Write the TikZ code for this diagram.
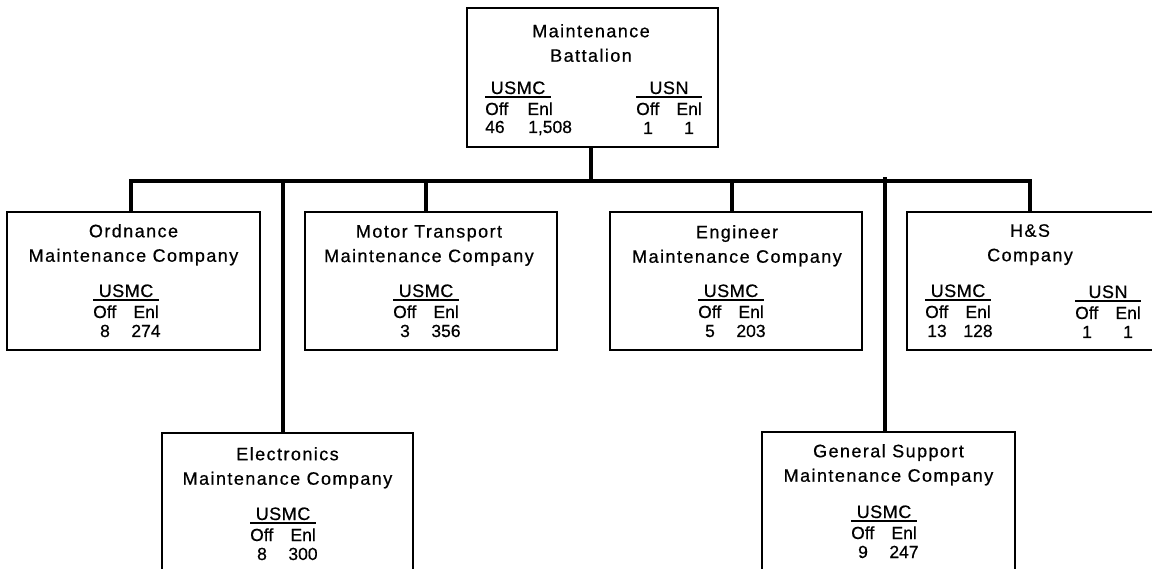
\documentclass[tikz,border=0pt]{standalone}
\usepackage{fontspec}
\setmainfont[FakeBold=0.6]{Liberation Sans}
\newfontfamily\ttlfont[LetterSpace=8,FakeBold=0.6]{Liberation Sans}
\newfontfamily\stfont[LetterSpace=3,FakeBold=0.6]{Liberation Sans}
\newcommand\mystats[6]{%
  \node[stlbl] (#1-l) at (#2,#3-3) {#4};
  \draw[strule] (#2-33,#3) -- (#2+33,#3);
  \node[sthead, anchor=base west] (#1-oh) at (#2-33,#3+18) {Off};
  \node[sthead, anchor=base east] (#1-eh) at (#2+33,#3+18) {Enl};
  \node[stval] (#1-ov) at (#2-21,#3+37) {#5};
  \node[stval] (#1-ev) at (#2+20,#3+37) {#6};
}
\begin{document}
\begin{tikzpicture}[x=1pt,y=-1pt,
  box/.style={draw, line width=2.2pt, inner sep=0pt, minimum width=253pt, minimum height=138pt},
  ttl/.style={font=\ttlfont\fontsize{18}{24.5}\selectfont, align=center, anchor=north, inner sep=0pt},
  stlbl/.style={font=\stfont\fontsize{18}{20}\selectfont, anchor=base, inner sep=0pt},
  sthead/.style={font=\fontsize{17.5}{20}\selectfont, inner sep=0pt},
  stval/.style={font=\fontsize{17.5}{20}\selectfont, anchor=base, inner sep=0pt},
  strule/.style={line width=1.2pt},
  conn/.style={line width=4pt, line join=miter}]
\path[use as bounding box, clip] (0,0) rectangle (1152,569);
% boxes
\node[box, minimum width=251pt, minimum height=139pt] (top) at (592.5,77.5) {};
\node[box] (ord) at (133.5,281) {};
\node[box, minimum width=252pt] (mt) at (431,281) {};
\node[box, minimum width=252pt] (eng) at (736,281) {};
\node[box, minimum width=246pt] (hs) at (1030,281) {};
\node[box, minimum width=251pt, minimum height=200pt] (elec) at (287.5,533) {};
\node[box, minimum width=253pt, minimum height=200pt] (gs) at (888.5,532) {};
% titles
\node[ttl] (top-t) at (591,24) {Maintenance\\Battalion};
\node[ttl] (ord-t) at (133.5,224) {Ordnance\\Maintenance Company};
\node[ttl] (mt-t) at (429,225) {Motor Transport\\Maintenance Company};
\node[ttl] (eng-t) at (737,225) {Engineer\\Maintenance Company};
\node[ttl] (hs-t) at (1030,224) {H\&S\\Company};
\node[ttl] (elec-t) at (287.5,447) {Electronics\\Maintenance Company};
\node[ttl] (gs-t) at (888.5,444) {General Support\\Maintenance Company};
% stats
\node[stlbl] (topu-l) at (518,94) {USMC};
\draw[strule] (485,97) -- (551,97);
\node[sthead, anchor=base west] (topu-oh) at (485,115) {Off};
\node[sthead, anchor=base east] (topu-eh) at (553,115) {Enl};
\node[stval, anchor=base west] (topu-ov) at (485,133) {46};
\node[stval, anchor=base west] (topu-ev) at (528,133) {1,508};
\mystats{topn}{669}{97}{USN}{1}{1}
\mystats{ord}{126}{300}{USMC}{8}{274}
\mystats{mt}{426}{300}{USMC}{3}{356}
\mystats{eng}{731}{300}{USMC}{5}{203}
\mystats{hsu}{958}{300}{USMC}{13}{128}
\mystats{hsn}{1108}{301}{USN}{1}{1}
\mystats{elec}{283}{523}{USMC}{8}{300}
\mystats{gs}{884}{521}{USMC}{9}{247}
% connectors
\coordinate (bus) at (591,181);
\draw[conn] ([xshift=-2.5pt]ord.north) |- (bus) -| (hs.north);
\draw[conn] (bus |- top.south) -- (bus);
\draw[conn] ([xshift=-5pt]mt.north) -- ([xshift=-5pt]mt.north |- bus);
\draw[conn] ([xshift=-4pt]eng.north) -- ([xshift=-4pt]eng.north |- bus);
\draw[conn] ([xshift=-4.5pt]elec.north) -- ([xshift=-4.5pt,yshift=2pt]elec.north |- bus);
\draw[conn] ([xshift=-3.5pt]gs.north) -- ([xshift=-3.5pt,yshift=4pt]gs.north |- bus);
\end{tikzpicture}
\end{document}
